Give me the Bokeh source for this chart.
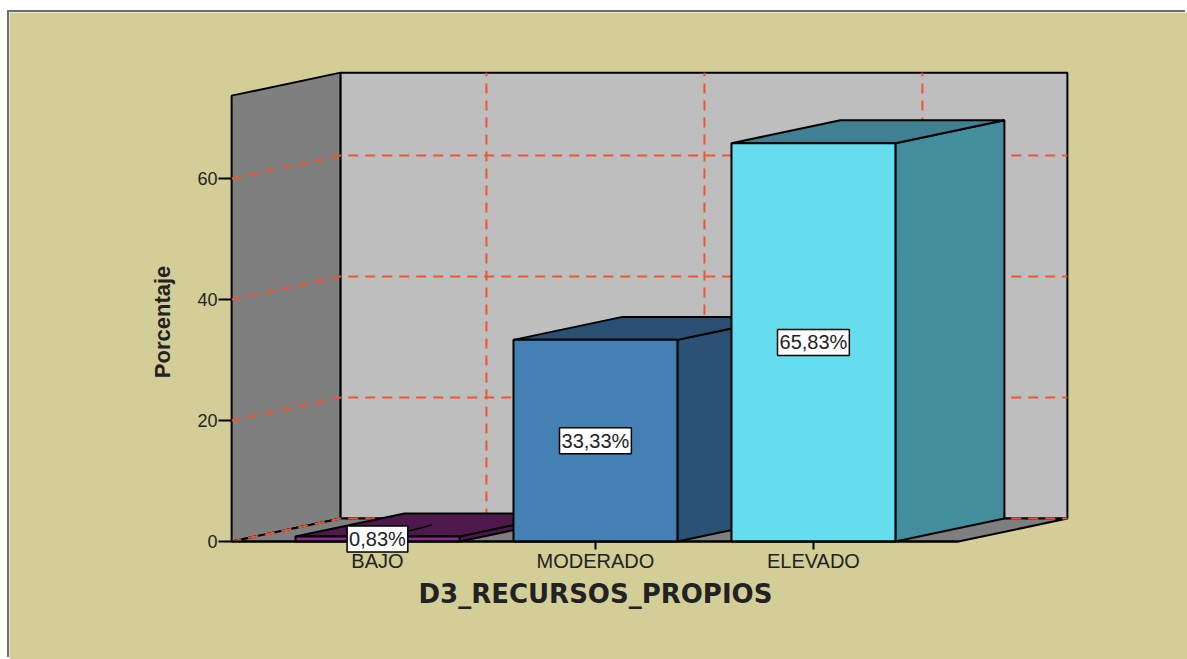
from bokeh.embed import file_html
from bokeh.models import FixedTicker, Label, LinearAxis, Range1d
from bokeh.plotting import figure
from bokeh.resources import INLINE

# Chart data
CATEGORIES = ["BAJO", "MODERADO", "ELEVADO"]
VALUES = [0.83, 33.33, 65.83]
Y_TICKS = [0, 20, 40, 60]
X_TITLE = "D3_RECURSOS_PROPIOS"
Y_TITLE = "Porcentaje"

# Bar colours per category
FRONT_COLORS = ["#8A2A8C", "#4580B4", "#66DDEE"]
TOP_COLORS = ["#4E1A4C", "#2A4F73", "#3F8092"]
SIDE_COLORS = ["#4E1A4C", "#2B5274", "#438E9C"]

PANEL = "#D3CE97"
WALL_BACK = "#BEBEBE"
WALL_SIDE = "#7F7F7F"
GRID_RED = "#EE5533"
TEXT = "#222222"
FONT = "Liberation Sans"

# Oblique projection of the box: depth shifts a point right and up
DEPTH_X = 0.5
DEPTH_Y = 3.8
BOX_LEFT = -0.669
BOX_RIGHT = 2.665
BOX_TOP = 73.7
BAR_HALF = 0.376

# The frame fills the whole figure, so the axes sit inside it at fixed positions
p = figure(
    width=1178, height=647, output_backend="svg", toolbar_location=None,
    x_axis_type=None, y_axis_type=None,
    x_range=Range1d(-1.688, 3.716), y_range=Range1d(-19.50, 87.44),
    min_border_left=0, min_border_right=0, min_border_top=0, min_border_bottom=0,
    background_fill_color=PANEL, border_fill_color=PANEL, outline_line_color=None,
    margin=(12, 0, 0, 9),
    styles={"box-shadow": "-2px -2px 0 #6E6E6E"},
)
p.grid.visible = False

# Side wall, back wall and floor of the box
back_l, back_r = BOX_LEFT + DEPTH_X, BOX_RIGHT + DEPTH_X
p.patch([BOX_LEFT, back_l, back_l, BOX_LEFT], [0, DEPTH_Y, BOX_TOP + DEPTH_Y, BOX_TOP],
        fill_color=WALL_SIDE, line_color="black", line_width=2)
p.patch([back_l, back_r, back_r, back_l], [DEPTH_Y, DEPTH_Y, BOX_TOP + DEPTH_Y, BOX_TOP + DEPTH_Y],
        fill_color=WALL_BACK, line_color="black", line_width=2)
p.patch([BOX_LEFT, back_l, back_r, BOX_RIGHT], [0, DEPTH_Y, DEPTH_Y, 0],
        fill_color=WALL_SIDE, line_color="black", line_width=2)

# Dashed gridlines along the side wall and back wall, and up the back wall
for tick in Y_TICKS:
    p.line([BOX_LEFT, back_l, back_r], [tick, tick + DEPTH_Y, tick + DEPTH_Y],
           line_color=GRID_RED, line_width=2, line_dash="10 7")
for i in range(len(CATEGORIES)):
    p.line([i + DEPTH_X, i + DEPTH_X], [DEPTH_Y, BOX_TOP + DEPTH_Y],
           line_color=GRID_RED, line_width=2, line_dash="10 7")

# Bars, drawn left to right so that each front hides the previous side face
for i, v in enumerate(VALUES):
    l, r = i - BAR_HALF, i + BAR_HALF
    p.patch([r, r + DEPTH_X, r + DEPTH_X, r], [0, DEPTH_Y, v + DEPTH_Y, v],
            fill_color=SIDE_COLORS[i], line_color="black", line_width=2)
    p.patch([l, l + DEPTH_X, r + DEPTH_X, r], [v, v + DEPTH_Y, v + DEPTH_Y, v],
            fill_color=TOP_COLORS[i], line_color="black", line_width=2)
    p.patch([l, r, r, l], [0, 0, v, v],
            fill_color=FRONT_COLORS[i], line_color="black", line_width=2)

# Leader from the smallest bar's label to the middle of its top
p.line([0, DEPTH_X / 2], [VALUES[0] / 2, VALUES[0] + DEPTH_Y / 2], line_color="black", line_width=1.5)

# Baseline of the front plane
p.line([BOX_LEFT, BOX_RIGHT], [0, 0], line_color="black", line_width=2)

# Axes
y_axis = LinearAxis(
    fixed_location=BOX_LEFT,
    ticker=FixedTicker(ticks=Y_TICKS), axis_line_color=None, major_tick_in=0, major_tick_out=13,
    major_tick_line_color="black", major_tick_line_width=2, minor_tick_line_color=None,
    major_label_text_font=FONT, major_label_text_font_size="18px", major_label_text_color=TEXT,
    major_label_standoff=1,
)
p.add_layout(y_axis, "left")

x_axis = LinearAxis(
    fixed_location=0,
    ticker=FixedTicker(ticks=list(range(len(CATEGORIES)))),
    major_label_overrides={i: c for i, c in enumerate(CATEGORIES)},
    axis_line_color=None, major_tick_in=0, major_tick_out=8,
    major_tick_line_color="black", major_tick_line_width=2, minor_tick_line_color=None,
    major_label_text_font=FONT, major_label_text_font_size="20px", major_label_text_color=TEXT,
    major_label_standoff=0,
)
p.add_layout(x_axis, "below")

# Value labels centred on each bar's front face
for i, v in enumerate(VALUES):
    p.add_layout(Label(
        x=i, y=v / 2, text=f"{v:.2f}%".replace(".", ","),
        text_align="center", text_baseline="middle",
        text_font=FONT, text_font_size="20px", text_color=TEXT,
        background_fill_color="white", border_line_color="black", border_line_width=1.5,
        padding=2,
    ))

# Axis titles
p.add_layout(Label(
    x=1, y=-8.7, text=X_TITLE, text_align="center", text_baseline="middle",
    text_font="DejaVu Sans", text_font_style="bold", text_font_size="26px", text_color=TEXT,
))
p.add_layout(Label(
    x=-0.985, y=36.3, text=Y_TITLE, text_align="center", text_baseline="middle", angle=90, angle_units="deg",
    text_font=FONT, text_font_style="bold", text_font_size="22px", text_color=TEXT,
))

open("out.html", "w").write(file_html(p, INLINE))
